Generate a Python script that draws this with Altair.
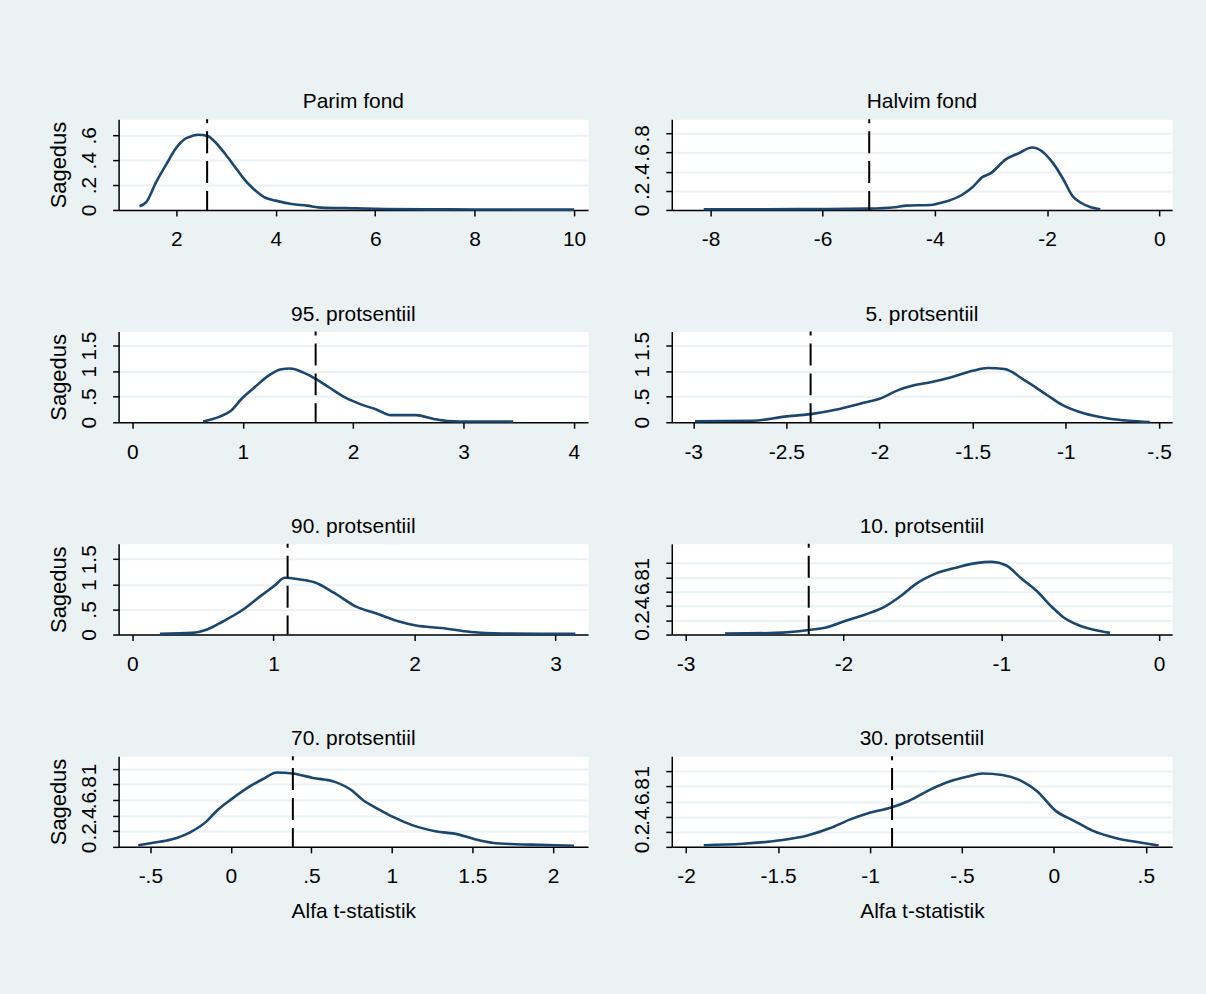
import altair as alt
import pandas as pd

titles = ["Parim fond", "Halvim fond", "95. protsentiil", "5. protsentiil",
          "90. protsentiil", "10. protsentiil", "70. protsentiil", "30. protsentiil"]

# density curves
p1_x = [1.26, 1.4, 1.59, 1.79, 2.0, 2.17, 2.32, 2.44, 2.63, 2.78, 2.98, 3.17, 3.36, 3.55, 3.78,
        4.0, 4.32, 4.63, 4.9, 5.6, 6.2, 7.0, 8.0, 9.0, 10.0]
p1_y = [0.03, 0.065, 0.22, 0.36, 0.5, 0.57, 0.595, 0.605, 0.595, 0.546, 0.452, 0.352, 0.25, 0.17, 0.1,
        0.075, 0.048, 0.035, 0.019, 0.013, 0.008, 0.005, 0.004, 0.003, 0.003]

p2_x = [-8.12, -7.0, -6.0, -5.17, -4.71, -4.51, -4.08, -3.85, -3.52, -3.33, -3.16, -3.0, -2.73, -2.5,
        -2.27, -2.17, -1.88, -1.71, -1.55, -1.38, -1.22, -1.05]
p2_y = [0.007, 0.008, 0.01, 0.014, 0.028, 0.045, 0.052, 0.08, 0.156, 0.236, 0.34, 0.385, 0.53, 0.593,
        0.652, 0.64, 0.478, 0.32, 0.149, 0.07, 0.028, 0.007]

p3_x = [0.64, 0.79, 0.89, 0.99, 1.10, 1.24, 1.34, 1.43, 1.55, 1.66, 1.79, 1.93, 2.07, 2.21, 2.34,
        2.57, 2.73, 2.86, 3.1, 3.45]
p3_y = [0.013, 0.11, 0.22, 0.46, 0.67, 0.92, 1.03, 1.05, 0.97, 0.85, 0.67, 0.48, 0.35, 0.25, 0.14,
        0.14, 0.065, 0.026, 0.015, 0.013]

p4_x = [-2.99, -2.68, -2.51, -2.37, -2.23, -2.1, -2.0, -1.9, -1.82, -1.72, -1.62, -1.5, -1.42, -1.33,
        -1.22, -1.1, -1.02, -0.9, -0.78, -0.66, -0.55]
p4_y = [0.02, 0.03, 0.11, 0.16, 0.25, 0.37, 0.46, 0.63, 0.72, 0.79, 0.88, 1.01, 1.065, 1.045,
        0.82, 0.53, 0.34, 0.17, 0.08, 0.03, 0.005]

p5_x = [0.195, 0.425, 0.53, 0.64, 0.78, 0.91, 1.01, 1.08, 1.18, 1.29, 1.43, 1.59, 1.73, 1.89, 2.01,
        2.19, 2.4, 2.62, 2.9, 3.14]
p5_y = [0.013, 0.033, 0.1, 0.26, 0.49, 0.77, 0.98, 1.13, 1.10, 1.04, 0.83, 0.55, 0.42, 0.26, 0.18,
        0.13, 0.05, 0.02, 0.014, 0.013]

p6_x = [-2.75, -2.43, -2.22, -2.11, -1.99, -1.87, -1.75, -1.63, -1.54, -1.42, -1.28, -1.16, -1.06,
        -0.97, -0.87, -0.78, -0.68, -0.61, -0.52, -0.42, -0.31]
p6_y = [0.014, 0.023, 0.064, 0.1, 0.19, 0.275, 0.376, 0.55, 0.71, 0.85, 0.94, 1.0, 1.018,
        0.97, 0.78, 0.62, 0.39, 0.25, 0.14, 0.069, 0.023]

p7_x = [-0.575, -0.49, -0.37, -0.25, -0.154, -0.083, 0.0, 0.13, 0.2, 0.285, 0.385, 0.51, 0.65, 0.75,
        0.82, 0.91, 1.01, 1.13, 1.27, 1.41, 1.51, 1.63, 1.77, 1.91, 2.13]
p7_y = [0.02, 0.05, 0.094, 0.19, 0.32, 0.47, 0.605, 0.79, 0.87, 0.953, 0.94, 0.884, 0.83, 0.725,
        0.6, 0.49, 0.38, 0.275, 0.2, 0.16, 0.1, 0.05, 0.034, 0.026, 0.013]

p8_x = [-1.904, -1.69, -1.5, -1.34, -1.22, -1.1, -1.01, -0.885, -0.79, -0.67, -0.56, -0.46, -0.39,
        -0.28, -0.175, -0.093, 0.01, 0.11, 0.21, 0.34, 0.46, 0.57]
p8_y = [0.022, 0.04, 0.083, 0.15, 0.245, 0.37, 0.445, 0.52, 0.607, 0.76, 0.87, 0.934, 0.97,
        0.95, 0.87, 0.74, 0.476, 0.345, 0.214, 0.114, 0.061, 0.017]

curve_x = [p1_x, p2_x, p3_x, p4_x, p5_x, p6_x, p7_x, p8_x]
curve_y = [p1_y, p2_y, p3_y, p4_y, p5_y, p6_y, p7_y, p8_y]

# actual-fund t-statistic (dashed vertical line)
vlines = [2.62, -5.17, 1.66, -2.37, 1.10, -2.22, 0.385, -0.88]

x_domains = [[0.84, 10.28], [-8.69, 0.23], [-0.125, 4.128], [-3.115, -0.43],
             [-0.098, 3.23], [-3.088, 0.083], [-0.697, 2.218], [-2.078, 0.643]]
y_domains = [[0, 0.729], [0, 0.946], [0, 1.774], [0, 1.78],
             [0, 1.807], [0, 1.27], [0, 1.163], [0, 1.2]]
x_ticks = [[2, 4, 6, 8, 10], [-8, -6, -4, -2, 0], [0, 1, 2, 3, 4], [-3, -2.5, -2, -1.5, -1, -0.5],
           [0, 1, 2, 3], [-3, -2, -1, 0], [-0.5, 0, 0.5, 1, 1.5, 2], [-2, -1.5, -1, -0.5, 0, 0.5]]
y_ticks = [[0, 0.2, 0.4, 0.6], [0, 0.2, 0.4, 0.6, 0.8], [0, 0.5, 1, 1.5], [0, 0.5, 1, 1.5],
           [0, 0.5, 1, 1.5], [0, 0.2, 0.4, 0.6, 0.8, 1], [0, 0.2, 0.4, 0.6, 0.8, 1],
           [0, 0.2, 0.4, 0.6, 0.8, 1]]

FMT = "replace('' + datum.value, '0.', '.')"
FONT = "Liberation Sans"
LINE = "#1a476f"
BG = "#eaf2f3"


def panel(i):
    left = i % 2 == 0
    bottom = i >= 6
    df = pd.DataFrame({"x": curve_x[i], "y": curve_y[i]})
    vdf = pd.DataFrame({"v": [vlines[i]]})
    xax = alt.Axis(values=x_ticks[i], grid=False, labelExpr=FMT, labelFlush=False,
                   titlePadding=14)
    yax = alt.Axis(values=y_ticks[i], grid=True, labelExpr=FMT, labelAngle=270,
                   labelAlign="center", labelBaseline="bottom", labelOverlap=False,
                   labelFlush=False, labelBound=False, titleFontSize=22)
    xenc = alt.X("x:Q", scale=alt.Scale(domain=x_domains[i], nice=False, zero=False), axis=xax,
                 title="Alfa t-statistik" if bottom else None)
    yenc = alt.Y("y:Q", scale=alt.Scale(domain=y_domains[i], nice=False), axis=yax,
                 title="Sagedus" if left else None)
    line = alt.Chart(df).mark_line(color=LINE, strokeWidth=2.6, interpolate="monotone").encode(
        x=xenc, y=yenc, order="x:Q")
    rule = alt.Chart(vdf).mark_rule(color="black", strokeWidth=2, strokeDash=[22, 8],
                                    strokeDashOffset=18).encode(x=alt.X("v:Q"))
    return alt.layer(line, rule).properties(width=471 if left else 502, height=91,
                                            title=titles[i])


panels = [panel(i) for i in range(8)]

chart = alt.concat(*panels, columns=2, spacing={"row": 54, "column": 43}).properties(
    background=BG,
    padding={"left": 47, "top": 90, "right": 34, "bottom": 72},
).configure_view(fill="white", strokeOpacity=0).configure_title(
    font=FONT, fontSize=21, fontWeight="normal", color="black", anchor="middle",
    frame="group", offset=6,
).configure_axis(
    labelFont=FONT, labelFontSize=21, labelColor="black", labelPadding=13,
    titleFont=FONT, titleFontSize=21, titleFontWeight="normal", titleColor="black",
    titlePadding=8, domainColor="black", domainWidth=1.5, tickColor="black",
    tickWidth=1.5, tickSize=6, gridColor=BG, gridWidth=2,
)

chart.save("out.html", embed_options={"renderer": "svg", "actions": False})
